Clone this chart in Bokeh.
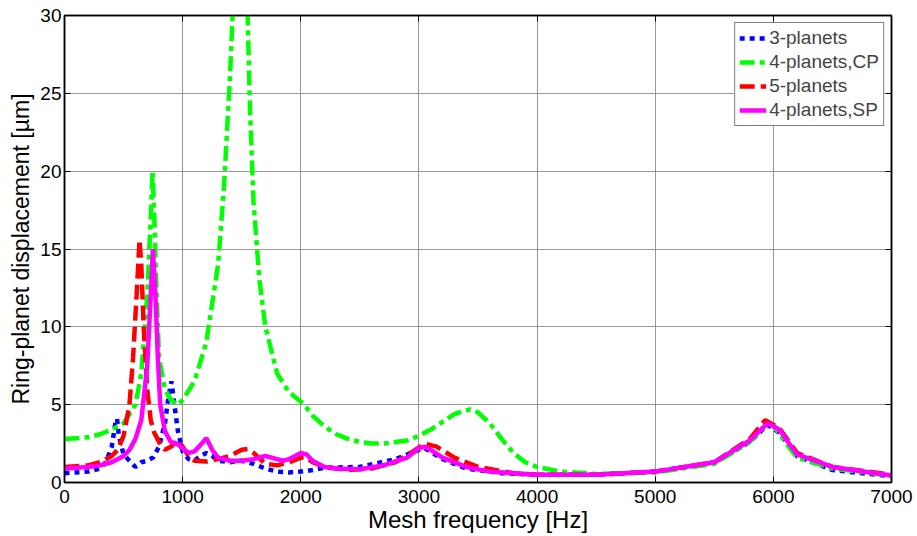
from bokeh.plotting import figure
from bokeh.models import Legend, LegendItem, LinearAxis, Range1d, FixedTicker
from bokeh.embed import file_html
from bokeh.resources import INLINE

# ---- data ----
f_blue = [0, 200, 300, 350, 400, 430, 445, 460, 500, 550, 600, 650, 700, 750, 800, 850, 880, 905,
          930, 960, 1000, 1050, 1100, 1150, 1200, 1250, 1300, 1400, 1500, 1600, 1700, 1800, 1900,
          2000, 2100, 2200, 2500, 2800, 3000, 3050, 3200, 3400, 3700, 4000, 4500, 5000, 5500,
          5800, 5950, 6050, 6200, 6500, 7000]
v_blue = [0.6, 0.7, 0.9, 1.3, 2.3, 3.8, 4.1, 3.0, 1.8, 1.4, 1.0, 1.3, 1.4, 1.6, 2.3, 3.8, 5.5, 6.5,
          5.0, 3.3, 2.0, 1.5, 1.4, 1.7, 1.9, 1.7, 1.4, 1.3, 1.4, 1.2, 0.9, 0.7, 0.65,
          0.7, 0.8, 0.95, 1.0, 1.5, 2.1, 2.2, 1.5, 0.9, 0.6, 0.5, 0.5, 0.7, 1.3,
          2.6, 3.7, 3.2, 1.7, 0.8, 0.4]

f_green = [0, 200, 300, 400, 500, 600, 650, 700, 730, 745, 760, 780, 800, 850, 900, 960, 1000,
           1100, 1200, 1300, 1350, 1400, 1440, 1480, 1520, 1550, 1570, 1600, 1650, 1700, 1800,
           1900, 2000, 2050, 2100, 2200, 2300, 2400, 2500, 2600, 2700, 2800, 2900, 3000, 3100,
           3200, 3300, 3430, 3500, 3600, 3700, 3800, 3900, 4000, 4200, 4500, 5000, 5500, 5800,
           5950, 6000, 6100, 6200, 6500, 7000]
v_green = [2.8, 2.9, 3.1, 3.4, 3.8, 5.0, 7.0, 12.0, 17.0, 20.0, 17.0, 12.0, 8.0, 6.0, 5.3, 5.0, 5.3,
           6.5, 9.0, 14.0, 19.0, 26.0, 33.0, 38.0, 34.0, 30.0, 24.0, 18.0, 13.0, 10.0, 7.0,
           5.8, 5.2, 4.8, 4.3, 3.6, 3.1, 2.8, 2.6, 2.5, 2.5, 2.6, 2.7, 3.0, 3.4,
           3.9, 4.4, 4.7, 4.5, 3.8, 2.8, 1.9, 1.3, 1.0, 0.7, 0.55, 0.65, 1.2, 2.6,
           3.8, 3.7, 2.6, 1.6, 0.9, 0.45]

f_red = [0, 200, 300, 400, 450, 500, 550, 580, 610, 635, 650, 670, 700, 730, 760, 800, 850, 900,
         960, 1000, 1050, 1100, 1200, 1300, 1400, 1500, 1550, 1600, 1700, 1800, 1900, 2000,
         2050, 2100, 2200, 2400, 2600, 2800, 2950, 3050, 3150, 3300, 3500, 3800, 4000, 4500,
         5000, 5500, 5800, 5930, 6050, 6200, 6500, 7000]
v_red = [1.0, 1.1, 1.3, 1.7, 2.1, 3.0, 5.0, 8.0, 12.0, 15.6, 14.0, 10.0, 6.0, 4.0, 3.2, 2.6, 2.1, 2.3,
         2.7, 2.3, 1.7, 1.4, 1.35, 1.5, 1.7, 2.1, 2.15, 1.9, 1.2, 1.1, 1.3, 1.6,
         1.6, 1.3, 1.0, 0.8, 0.9, 1.3, 2.0, 2.5, 2.3, 1.6, 1.0, 0.6, 0.5, 0.5,
         0.7, 1.3, 2.8, 4.0, 3.5, 1.9, 1.0, 0.5]

f_mag = [0, 200, 300, 400, 500, 550, 600, 650, 700, 730, 748, 770, 790, 810, 850, 900, 950, 1000,
         1050, 1100, 1150, 1200, 1250, 1300, 1400, 1500, 1600, 1700, 1800, 1850, 1900, 2000,
         2050, 2100, 2200, 2300, 2500, 2700, 2900, 3000, 3050, 3100, 3200, 3400, 3600, 4000,
         4500, 5000, 5500, 5800, 5950, 6050, 6200, 6500, 7000]
v_mag = [0.9, 1.0, 1.1, 1.3, 1.7, 2.1, 2.8, 4.0, 7.5, 12.0, 15.0, 12.0, 8.0, 5.0, 3.3, 2.6, 2.5, 2.2,
         1.9, 2.0, 2.4, 2.85, 2.1, 1.6, 1.4, 1.4, 1.5, 1.7, 1.5, 1.4, 1.5, 1.9,
         1.8, 1.4, 1.0, 0.9, 0.85, 1.1, 1.6, 2.2, 2.3, 2.1, 1.6, 1.0, 0.7, 0.5,
         0.5, 0.7, 1.3, 2.7, 3.8, 3.4, 1.8, 1.0, 0.45]

labels = ["3-planets", "4-planets,CP", "5-planets", "4-planets,SP"]
x_ticks = [0, 1000, 2000, 3000, 4000, 5000, 6000, 7000]
y_ticks = [0, 5, 10, 15, 20, 25, 30]

FONT = "Liberation Sans"

p = figure(width=917, height=536, output_backend="svg", toolbar_location=None,
           x_range=Range1d(0, 7000), y_range=Range1d(0, 30),
           min_border_left=64, min_border_right=26, min_border_top=15, min_border_bottom=54)
p.background_fill_color = "white"
p.border_fill_color = "white"
p.outline_line_color = "black"
p.outline_line_width = 1.5

LW = 4.5
r1 = p.line(f_blue, v_blue, line_color="#0000ff", line_width=LW, line_dash="5 5")
r2 = p.line(f_green, v_green, line_color="#00ff00", line_width=LW, line_dash="15 5 5 5")
r3 = p.line(f_red, v_red, line_color="#ff0000", line_width=LW, line_dash="15 6")
r4 = p.line(f_mag, v_mag, line_color="#ff00ff", line_width=LW)

for ax in (p.xaxis[0], p.yaxis[0]):
    ax.major_label_text_font = FONT
    ax.major_label_text_font_size = "19px"
    ax.major_label_text_color = "black"
    ax.axis_label_text_font = FONT
    ax.axis_label_text_font_style = "normal"
    ax.axis_label_text_color = "black"
    ax.major_tick_in = 6
    ax.major_tick_out = 0
    ax.minor_tick_line_color = None
    ax.axis_line_color = "black"
    ax.axis_line_width = 1.5
    ax.major_tick_line_color = "black"

p.xaxis[0].axis_label_text_font_size = "24px"
p.yaxis[0].axis_label_text_font_size = "23px"
p.xaxis[0].major_label_standoff = 7
p.xaxis[0].axis_label_standoff = 0
p.yaxis[0].major_label_standoff = 3
p.yaxis[0].axis_label_standoff = 3

p.xaxis[0].ticker = FixedTicker(ticks=x_ticks)
p.yaxis[0].ticker = FixedTicker(ticks=y_ticks)
p.xaxis[0].axis_label = "Mesh frequency [Hz]"
p.yaxis[0].axis_label = "Ring-planet displacement [µm]"

for loc, ticks in (("right", y_ticks), ("above", x_ticks)):
    ax = LinearAxis(ticker=FixedTicker(ticks=ticks))
    ax.major_label_text_font_size = "0px"
    ax.major_label_text_color = None
    ax.major_tick_in = 6
    ax.major_tick_out = 0
    ax.minor_tick_line_color = None
    ax.axis_line_color = "black"
    ax.axis_line_width = 1.5
    ax.major_label_standoff = 0
    p.add_layout(ax, loc)

p.xgrid.ticker = FixedTicker(ticks=x_ticks)
p.ygrid.ticker = FixedTicker(ticks=y_ticks)
p.grid.grid_line_color = "#808080"
p.grid.grid_line_width = 1
p.grid.grid_line_alpha = 0.8

legend = Legend(items=[LegendItem(label=labels[0], renderers=[r1]),
                       LegendItem(label=labels[1], renderers=[r2]),
                       LegendItem(label=labels[2], renderers=[r3]),
                       LegendItem(label=labels[3], renderers=[r4])],
                location="top_right")
legend.label_text_font = FONT
legend.label_text_font_size = "19px"
legend.label_height = 22
legend.glyph_height = 22
legend.glyph_width = 27
legend.spacing = 2
legend.padding = 4
legend.margin = 7
legend.label_standoff = 3
legend.border_line_color = "black"
legend.border_line_width = 1
legend.background_fill_alpha = 1
p.add_layout(legend)

open("out.html", "w").write(file_html(p, INLINE))
